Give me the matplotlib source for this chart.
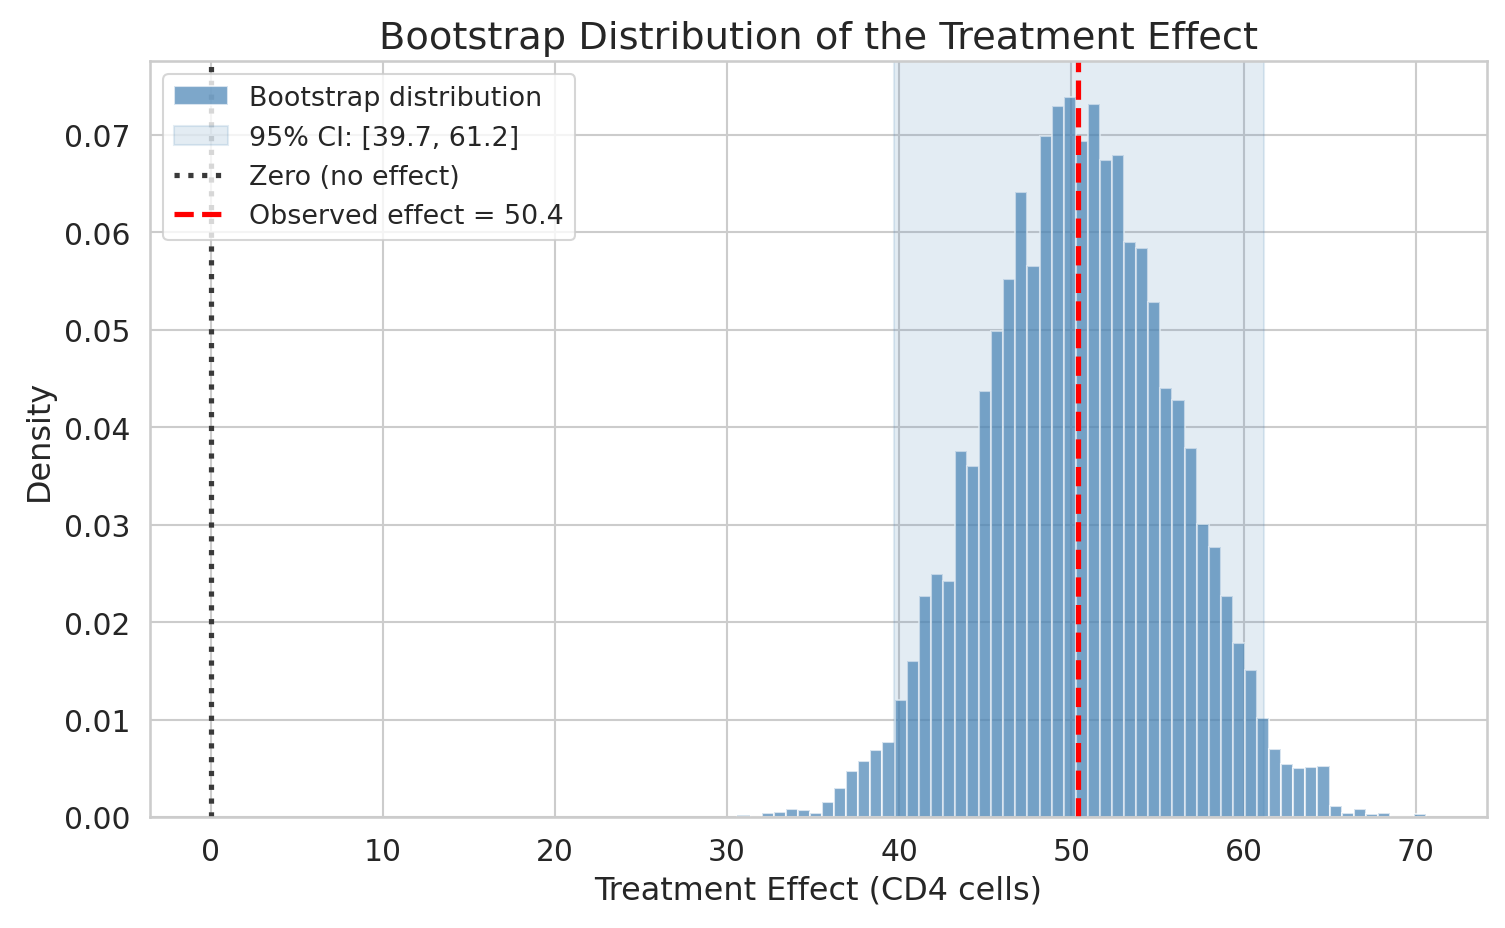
import matplotlib
matplotlib.use('Agg')
import matplotlib.pyplot as plt
import seaborn as sns
import numpy as np

# Histogram of bootstrap estimates (density per bin)
bin_start = 30.6
bin_width = 0.702
density = [
    0.0002, 0.0, 0.0004, 0.0005, 0.0008, 0.0007, 0.0004, 0.0015, 0.0030, 0.0047,
    0.0057, 0.0069, 0.0077, 0.0120, 0.0160, 0.0227, 0.0249, 0.0242, 0.0376, 0.0360,
    0.0437, 0.0499, 0.0552, 0.0642, 0.0566, 0.0699, 0.0730, 0.0739, 0.0694, 0.0732,
    0.0674, 0.0679, 0.0590, 0.0584, 0.0529, 0.0440, 0.0428, 0.0379, 0.0301, 0.0277,
    0.0227, 0.0179, 0.0151, 0.0102, 0.0070, 0.0054, 0.0050, 0.0051, 0.0052, 0.0011,
    0.0004, 0.0008, 0.0003, 0.0004, 0.0, 0.0, 0.0003,
]
ci_low, ci_high = 39.7, 61.2
observed_effect = 50.4

sns.set_theme(style='whitegrid', font_scale=1.3)

fig, ax = plt.subplots(figsize=(10.04, 6.193), dpi=150)
fig.subplots_adjust(left=0.0996, right=0.9874, top=0.9333, bottom=0.1195)

lefts = bin_start + bin_width * np.arange(len(density))
bars = ax.bar(lefts, density, width=bin_width, align='edge', color='steelblue',
              alpha=0.7, edgecolor='white', linewidth=1, label='Bootstrap distribution')

span = ax.axvspan(ci_low, ci_high, color='steelblue', alpha=0.15,
                  label=f'95% CI: [{ci_low}, {ci_high}]')
zero = ax.axvline(0, color='#3a3a3a', linestyle=':', linewidth=2.5, label='Zero (no effect)')
obs = ax.axvline(observed_effect, color='red', linestyle='--', linewidth=2.5,
                 label=f'Observed effect = {observed_effect}')

ax.set_xlabel('Treatment Effect (CD4 cells)', fontsize=15.3)
ax.set_ylabel('Density', fontsize=15.3)
ax.set_title('Bootstrap Distribution of the Treatment Effect', fontsize=18.4)
ax.legend(handles=[bars, span, zero, obs], loc='upper left', fontsize=12.9)

plt.savefig('out.png', dpi=150)
plt.close()
